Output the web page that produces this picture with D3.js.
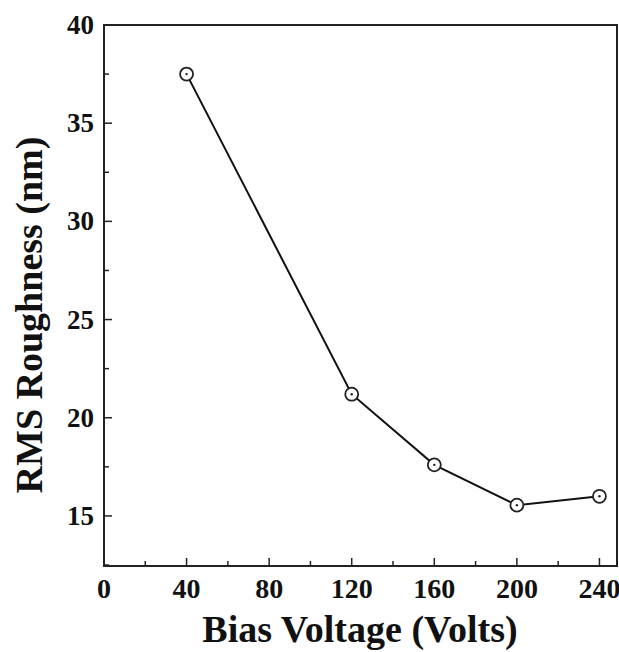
<!DOCTYPE html>
<html>
<head>
<meta charset="utf-8">
<script src="https://cdn.jsdelivr.net/npm/d3@7"></script>
<style>
body { margin: 0; background: #fff; }
svg text { font-family: "Liberation Serif", "Times New Roman", serif; font-weight: bold; fill: #111; }
</style>
</head>
<body>
<div id="chart"></div>
<script>
// данные
let biasVoltage = [40, 120, 160, 200, 240];
let rmsRoughness = [37.5, 21.2, 17.6, 15.55, 16.0];
let xTicks = [0, 40, 80, 120, 160, 200, 240];
let yTicks = [15, 20, 25, 30, 35, 40];

let width = 619, height = 652;
let plotLeft = 104, plotRight = 617, plotTop = 25, plotBottom = 566;

let svg = d3.select('#chart').append('svg')
	.attr('width', width)
	.attr('height', height);

let x = d3.scaleLinear().domain([0, 248.5]).range([plotLeft, plotRight]);
let y = d3.scaleLinear().domain([12.45, 40]).range([plotBottom, plotTop]);

// рамка
svg.append('rect')
	.attr('x', plotLeft).attr('y', plotTop)
	.attr('width', plotRight - plotLeft).attr('height', plotBottom - plotTop)
	.attr('fill', 'none').attr('stroke', '#222').attr('stroke-width', 2);

// тики внутрь
let xMinor = d3.range(20, 248, 40);
let yMinor = d3.range(12.5, 40, 5);

xTicks.forEach(t => {
	svg.append('line').attr('x1', x(t)).attr('x2', x(t))
		.attr('y1', plotBottom).attr('y2', plotBottom - 8)
		.attr('stroke', '#222').attr('stroke-width', 1.5);
	svg.append('text').attr('x', x(t)).attr('y', plotBottom + 32)
		.attr('text-anchor', 'middle').style('font-size', '28px').text(t);
});
xMinor.forEach(t => {
	svg.append('line').attr('x1', x(t)).attr('x2', x(t))
		.attr('y1', plotBottom).attr('y2', plotBottom - 5)
		.attr('stroke', '#222').attr('stroke-width', 1.5);
});

yTicks.forEach(t => {
	svg.append('line').attr('x1', plotLeft).attr('x2', plotLeft + 8)
		.attr('y1', y(t)).attr('y2', y(t))
		.attr('stroke', '#222').attr('stroke-width', 1.5);
	svg.append('text').attr('x', plotLeft - 10).attr('y', y(t) + 9)
		.attr('text-anchor', 'end').style('font-size', '27px').text(t);
});
yMinor.forEach(t => {
	svg.append('line').attr('x1', plotLeft).attr('x2', plotLeft + 5)
		.attr('y1', y(t)).attr('y2', y(t))
		.attr('stroke', '#222').attr('stroke-width', 1.5);
});

// линия
let line = d3.line().x((d, i) => x(biasVoltage[i])).y(d => y(d));
svg.append('path')
	.datum(rmsRoughness)
	.attr('d', line)
	.attr('fill', 'none').attr('stroke', '#111').attr('stroke-width', 2);

// маркеры
rmsRoughness.forEach((v, i) => {
	svg.append('circle').attr('cx', x(biasVoltage[i])).attr('cy', y(v)).attr('r', 6.5)
		.attr('fill', '#fff').attr('stroke', '#222').attr('stroke-width', 1.8);
	svg.append('circle').attr('cx', x(biasVoltage[i])).attr('cy', y(v)).attr('r', 1.2)
		.attr('fill', '#222');
});

// подписи осей
svg.append('text').attr('x', 360).attr('y', 642)
	.attr('text-anchor', 'middle').style('font-size', '38px').text('Bias Voltage (Volts)');
svg.append('text').attr('transform', 'translate(42,315) rotate(-90)')
	.attr('text-anchor', 'middle').style('font-size', '38px').text('RMS Roughness (nm)');
</script>
</body>
</html>
